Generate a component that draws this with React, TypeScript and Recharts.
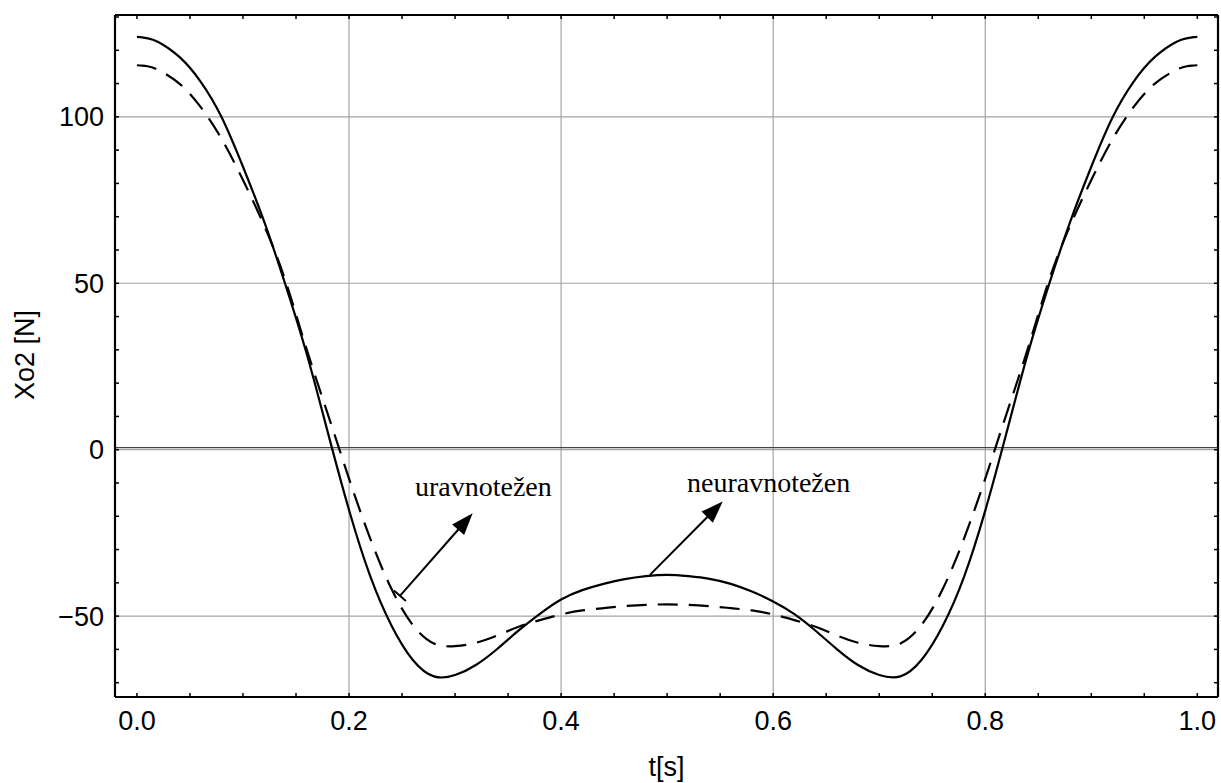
import React from "react";
import {
  LineChart,
  Line,
  XAxis,
  YAxis,
  ReferenceLine,
  ReferenceDot,
  Label,
} from "recharts";

// t [s]
const tValues = [
  0.0, 0.005, 0.01, 0.02, 0.04, 0.06, 0.08, 0.1, 0.12, 0.14, 0.16, 0.18, 0.2,
  0.22, 0.24, 0.26, 0.28, 0.3, 0.32, 0.34, 0.36, 0.38, 0.4, 0.42, 0.44, 0.46,
  0.48, 0.5, 0.52, 0.54, 0.56, 0.58, 0.6, 0.62, 0.64, 0.66, 0.68, 0.7, 0.72,
  0.74, 0.76, 0.78, 0.8, 0.82, 0.84, 0.86, 0.88, 0.9, 0.92, 0.94, 0.96, 0.98,
  0.99, 0.995, 1.0,
];

// neuravnotežen (solid)
const unbalanced = [
  124.0, 123.9, 123.6, 122.5, 118.0, 110.6, 99.8, 85.0, 68.5, 49.6, 28.9, 5.2,
  -18.1, -38.0, -52.8, -63.1, -68.1, -67.7, -64.6, -59.8, -54.3, -49.3, -45.0,
  -42.2, -40.3, -38.9, -38.0, -37.6, -38.0, -38.8, -40.3, -42.6, -45.6, -49.4,
  -54.4, -59.9, -64.7, -67.7, -68.1, -63.1, -52.9, -38.2, -18.3, 5.0, 28.7,
  49.5, 68.4, 85.0, 99.8, 110.6, 118.0, 122.5, 123.6, 123.9, 124.0,
];

// uravnotežen (dashed)
const balanced = [
  115.5, 115.4, 115.2, 114.1, 110.0, 103.0, 93.3, 81.0, 67.3, 50.8, 30.2, 10.7,
  -8.7, -26.7, -41.8, -52.6, -58.2, -59.0, -58.0, -55.8, -53.2, -51.2, -49.5,
  -48.3, -47.6, -47.0, -46.6, -46.5, -46.6, -47.0, -47.6, -48.3, -49.5, -51.2,
  -53.2, -55.8, -58.0, -59.0, -58.2, -52.6, -41.8, -26.7, -8.7, 10.7, 30.2,
  50.8, 67.3, 81.0, 93.3, 103.0, 110.0, 114.1, 115.2, 115.4, 115.5,
];

const xMajorTicks = [0, 0.2, 0.4, 0.6, 0.8, 1.0];
const xMinorTicks = [
  0, 0.05, 0.1, 0.15, 0.2, 0.25, 0.3, 0.35, 0.4, 0.45, 0.5, 0.55, 0.6, 0.65,
  0.7, 0.75, 0.8, 0.85, 0.9, 0.95, 1.0,
];
const yMajorTicks = [-50, 0, 50, 100];
const yMinorTicks = [
  -70, -60, -50, -40, -30, -20, -10, 0, 10, 20, 30, 40, 50, 60, 70, 80, 90, 100,
  110, 120, 130,
];
const xGrid = [0.2, 0.4, 0.6, 0.8];
const yGrid = [-50, 0, 50, 100];

const data = tValues.map((t, i) => ({
  t,
  unbalanced: unbalanced[i],
  balanced: balanced[i],
}));

const SANS = '"Liberation Sans", Arial, sans-serif';
const SERIF = '"Liberation Serif", "Times New Roman", serif';
const GRID = "#a3a3a3";
const FRAME = { stroke: "#000", strokeWidth: 2.2 };
const TICKLINE = { stroke: "#000", strokeWidth: 1.5 };
const X_DOMAIN: [number, number] = [-0.0207, 1.0195];
const Y_DOMAIN: [number, number] = [-74.3, 130.6];

const noLabel = () => <g />;

function Arrow(props: any) {
  const { x1, y1, x2, y2, tailBar } = props;
  const dx = x2 - x1;
  const dy = y2 - y1;
  const len = Math.sqrt(dx * dx + dy * dy) || 1;
  const ux = dx / len;
  const uy = dy / len;
  const px = -uy;
  const py = ux;
  const hl = 22;
  const hw = 8;
  const bx = x2 - ux * hl;
  const by = y2 - uy * hl;
  return (
    <g>
      <line x1={x1} y1={y1} x2={bx + ux * 2} y2={by + uy * 2} stroke="#000" strokeWidth={2} />
      <polygon
        points={`${x2},${y2} ${bx + px * hw},${by + py * hw} ${bx - px * hw},${by - py * hw}`}
        fill="#000"
      />
      {tailBar && (
        <line
          x1={x1 + px * 8}
          y1={y1 + py * 8}
          x2={x1 - px * 8}
          y2={y1 - py * 8}
          stroke="#000"
          strokeWidth={2}
        />
      )}
    </g>
  );
}

function Note(text: string) {
  return (p: any) => (
    <text x={p.cx} y={p.cy} fontFamily={SERIF} fontSize={28} fill="#000">
      {text}
    </text>
  );
}

function YTitle(props: any) {
  const vb = props.viewBox || { x: 0, y: 15, width: 115, height: 682 };
  const cx = vb.x + 25;
  const cy = vb.y + vb.height / 2 - 1;
  return (
    <text
      x={cx}
      y={cy}
      transform={`rotate(-90, ${cx}, ${cy})`}
      textAnchor="middle"
      dominantBaseline="central"
      fontFamily={SANS}
      fontSize={27}
      fill="#000"
    >
      Xo2 [N]
    </text>
  );
}

function XTitle(props: any) {
  const vb = props.viewBox || { x: 115, y: 697, width: 1103, height: 86 };
  return (
    <text
      x={vb.x + vb.width / 2}
      y={vb.y + 79}
      textAnchor="middle"
      fontFamily={SANS}
      fontSize={27}
      fill="#000"
    >
      t[s]
    </text>
  );
}

export default function App() {
  const tickStyle = { fill: "#000", fontSize: 27, fontFamily: SANS };
  return (
    <div style={{ position: "absolute", left: 0, top: 0, background: "#fff" }}>
      <LineChart
        width={1221}
        height={783}
        data={data}
        margin={{ top: 15, right: 3, bottom: 0, left: 0 }}
      >
        <XAxis
          xAxisId="b"
          dataKey="t"
          type="number"
          domain={X_DOMAIN}
          allowDataOverflow
          ticks={xMajorTicks}
          interval={0}
          tickFormatter={(v: number) => v.toFixed(1)}
          tick={tickStyle}
          tickLine={false}
          tickSize={0}
          tickMargin={14}
          height={86}
          axisLine={FRAME}
        >
          <Label content={<XTitle />} />
        </XAxis>
        <XAxis
          xAxisId="bm"
          dataKey="t"
          type="number"
          domain={X_DOMAIN}
          allowDataOverflow
          ticks={xMinorTicks}
          interval={0}
          mirror
          tick={noLabel}
          tickSize={4}
          tickLine={TICKLINE}
          axisLine={false}
        />
        <XAxis
          xAxisId="tp"
          orientation="top"
          dataKey="t"
          type="number"
          domain={X_DOMAIN}
          allowDataOverflow
          ticks={xMinorTicks}
          interval={0}
          mirror
          tick={noLabel}
          tickSize={4}
          tickLine={TICKLINE}
          axisLine={FRAME}
        />
        <YAxis
          yAxisId="l"
          type="number"
          domain={Y_DOMAIN}
          allowDataOverflow
          ticks={yMajorTicks}
          interval={0}
          tickFormatter={(v: number) => String(v).replace("-", "\u2212")}
          tick={tickStyle}
          tickLine={false}
          tickSize={0}
          tickMargin={11}
          width={115}
          axisLine={FRAME}
        >
          <Label content={<YTitle />} />
        </YAxis>
        <YAxis
          yAxisId="lm"
          type="number"
          domain={Y_DOMAIN}
          allowDataOverflow
          ticks={yMinorTicks}
          interval={0}
          mirror
          tick={noLabel}
          tickSize={4}
          tickLine={TICKLINE}
          axisLine={false}
        />
        <YAxis
          yAxisId="r"
          orientation="right"
          type="number"
          domain={Y_DOMAIN}
          allowDataOverflow
          ticks={yMinorTicks}
          interval={0}
          mirror
          tick={noLabel}
          tickSize={4}
          tickLine={TICKLINE}
          axisLine={FRAME}
        />

        {xGrid.map((x) => (
          <ReferenceLine key={`gx${x}`} xAxisId="b" yAxisId="l" x={x} stroke={GRID} strokeWidth={1.2} />
        ))}
        {yGrid.map((y) => (
          <ReferenceLine key={`gy${y}`} xAxisId="b" yAxisId="l" y={y} stroke={GRID} strokeWidth={1.2} />
        ))}
        <ReferenceLine
          xAxisId="b"
          yAxisId="l"
          y={0}
          shape={(p: any) => (
            <line x1={p.x1} y1={p.y1 - 2} x2={p.x2} y2={p.y2 - 2} stroke="#444" strokeWidth={1.3} />
          )}
        />

        <Line
          xAxisId="b"
          yAxisId="l"
          type="natural"
          dataKey="balanced"
          stroke="#000"
          strokeWidth={2.2}
          strokeDasharray="20 11"
          dot={false}
          activeDot={false}
          isAnimationActive={false}
        />
        <Line
          xAxisId="b"
          yAxisId="l"
          type="natural"
          dataKey="unbalanced"
          stroke="#000"
          strokeWidth={2.2}
          dot={false}
          activeDot={false}
          isAnimationActive={false}
        />

        <ReferenceLine
          xAxisId="b"
          yAxisId="l"
          segment={[
            { x: 0.248, y: -43.9 },
            { x: 0.3166, y: -19.1 },
          ]}
          shape={(p: any) => <Arrow {...p} tailBar />}
        />
        <ReferenceLine
          xAxisId="b"
          yAxisId="l"
          segment={[
            { x: 0.4838, y: -37.6 },
            { x: 0.5524, y: -15.6 },
          ]}
          shape={(p: any) => <Arrow {...p} />}
        />
        <ReferenceDot xAxisId="b" yAxisId="l" x={0.2622} y={-13.8} r={0} shape={Note("uravnotežen")} />
        <ReferenceDot xAxisId="b" yAxisId="l" x={0.5187} y={-12.6} r={0} shape={Note("neuravnotežen")} />
      </LineChart>
    </div>
  );
}
